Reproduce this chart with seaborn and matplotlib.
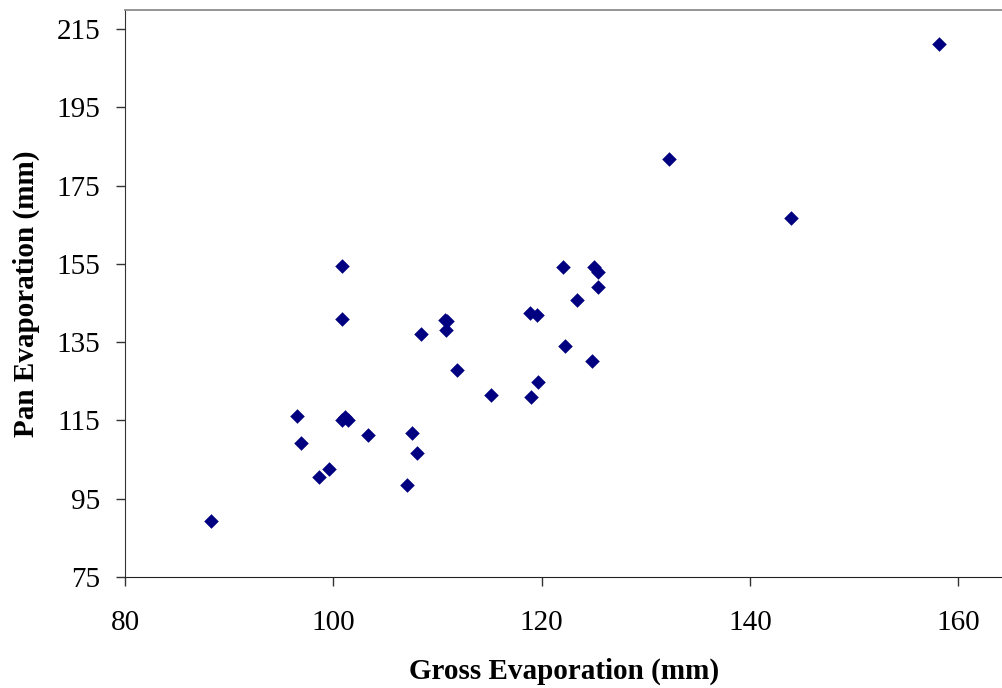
import pandas as pd
import seaborn as sns
import matplotlib.pyplot as plt

# values
gross_evap = [88.25, 96.5, 96.9, 98.65, 99.6, 100.8, 101.1, 101.45, 100.85, 100.85,
              103.3, 107.1, 107.6, 108.0, 108.4, 110.7, 110.9, 110.8, 111.85, 115.15,
              119.0, 119.7, 118.9, 119.55, 122.1, 125.0, 125.4, 125.4, 123.4, 122.25,
              124.85, 132.2, 143.9, 158.2]
pan_evap = [89.3, 116.1, 109.3, 100.5, 102.5, 115.1, 116.0, 115.1, 154.5, 140.9,
            111.3, 98.5, 111.7, 106.8, 137.0, 140.8, 140.4, 138.0, 127.8, 121.5,
            121.0, 124.9, 142.5, 141.9, 154.1, 154.3, 153.0, 149.2, 145.8, 134.1,
            130.3, 181.7, 166.8, 211.1]
x_ticks = [80, 100, 120, 140, 160]
y_ticks = [75, 95, 115, 135, 155, 175, 195, 215]

df = pd.DataFrame({'gross': gross_evap, 'pan': pan_evap})

sns.set_style('ticks')
plt.rcParams['font.family'] = ['Liberation Serif', 'DejaVu Serif']
plt.rcParams['text.color'] = 'black'
plt.rcParams['axes.labelcolor'] = 'black'

fig = plt.figure(figsize=(10.03, 6.88), dpi=100)
ax = fig.add_axes([0.1246, 0.1613, 0.8754, 0.8242])

sns.scatterplot(data=df, x='gross', y='pan', marker='D', color='#000080',
                s=55, linewidth=0, edgecolor=None, ax=ax)

ax.set_xlim(80, 164.3)
ax.set_ylim(75, 219.9)
ax.set_xticks(x_ticks)
ax.set_yticks(y_ticks)
ax.tick_params(axis='both', direction='out', length=6.5, width=1, colors='#333333',
               labelcolor='black', labelsize=21)
ax.tick_params(axis='y', pad=11)
ax.tick_params(axis='x', pad=17)

ax.spines['right'].set_visible(False)
ax.spines['top'].set_color('#8c8c8c')
ax.spines['top'].set_linewidth(1.3)
ax.spines['left'].set_color('#333333')
ax.spines['bottom'].set_color('#222222')

ax.set_xlabel('Gross Evaporation (mm)', fontsize=21, fontweight='bold', labelpad=16)
ax.set_ylabel('Pan Evaporation (mm)', fontsize=21, fontweight='bold', labelpad=12)

fig.savefig('out.png', dpi=100)
